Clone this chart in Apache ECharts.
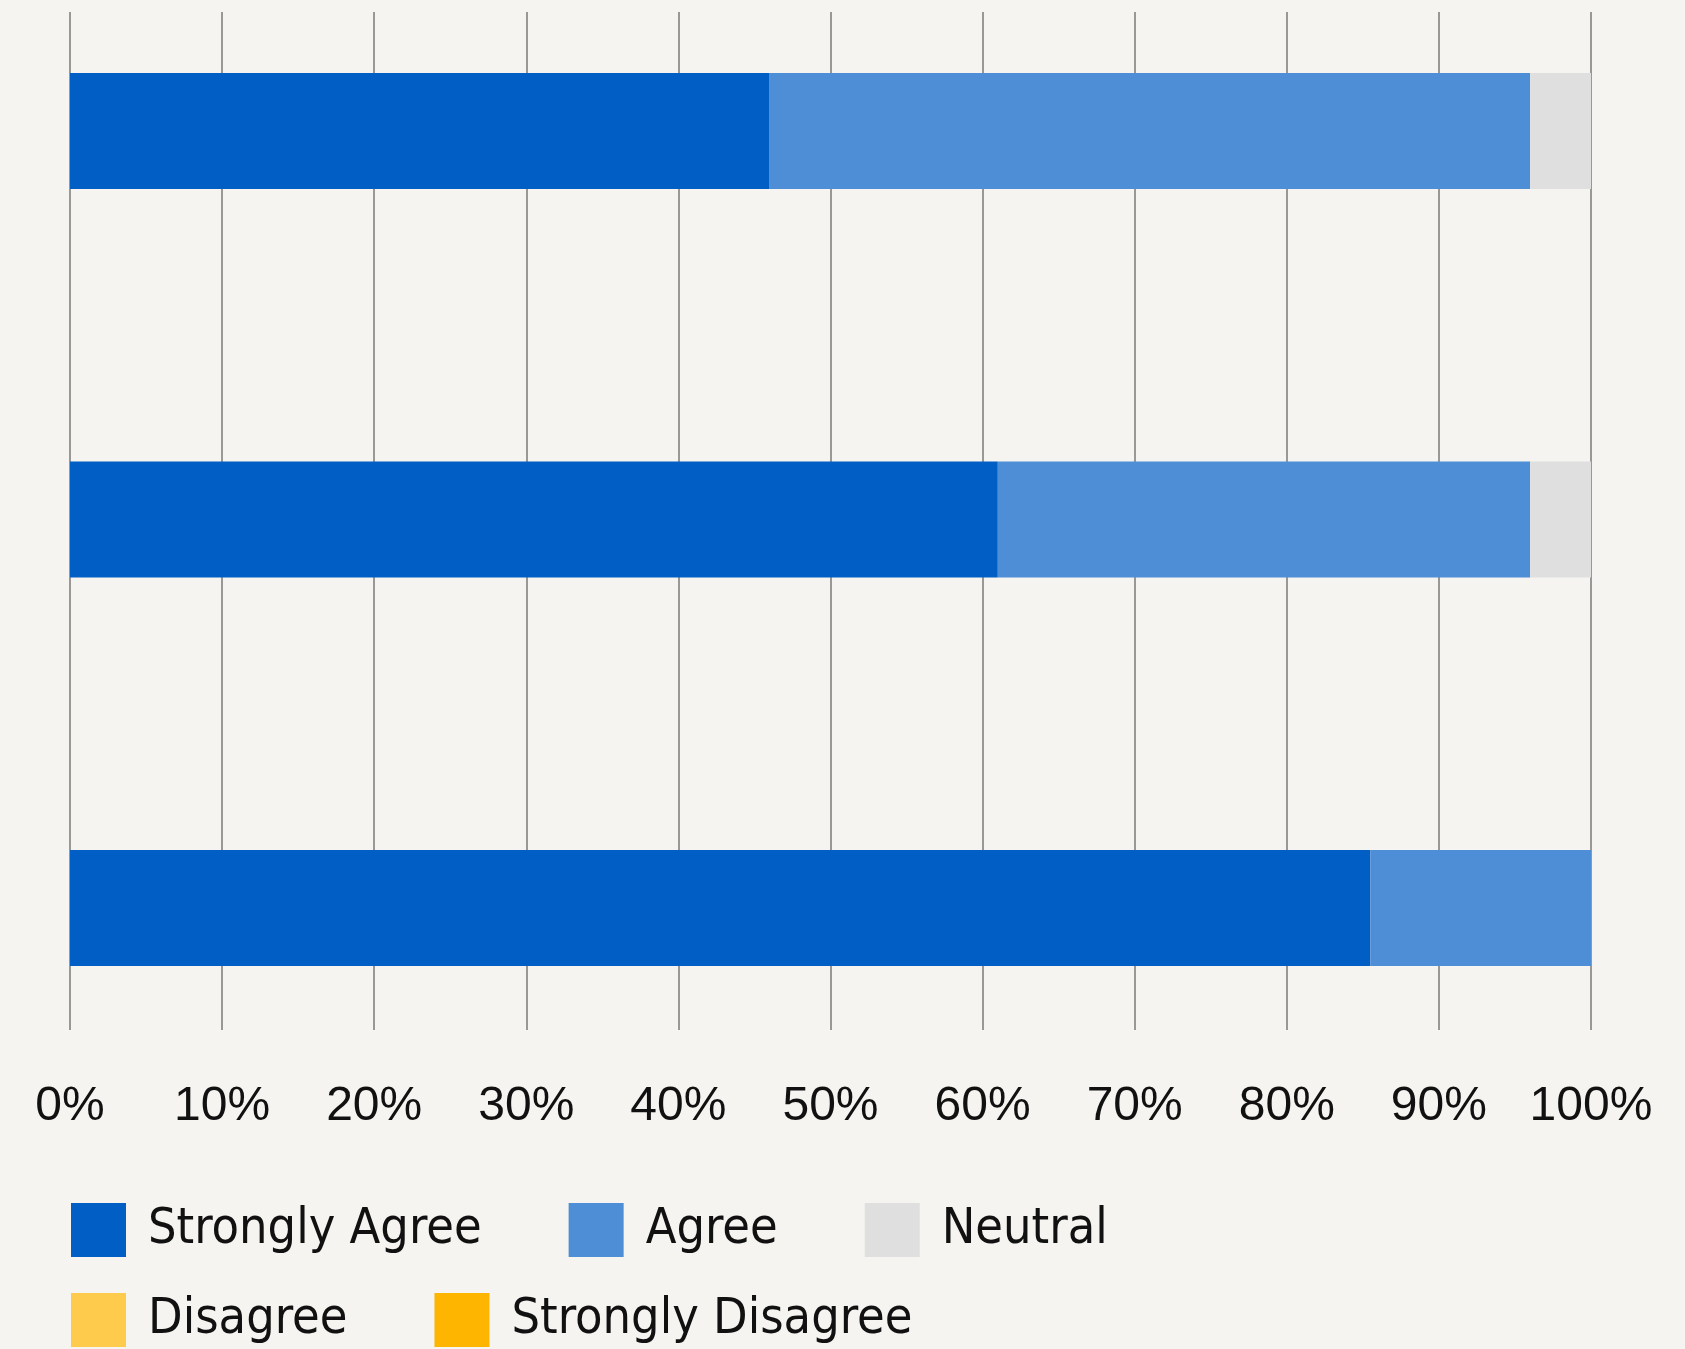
<!DOCTYPE html>
<html>
<head>
<meta charset="utf-8">
<script src="https://cdn.jsdelivr.net/npm/echarts@6/dist/echarts.min.js"></script>
<style>
  html, body { margin: 0; padding: 0; background: #f5f4f0; }
  #chart { width: 1685px; height: 1349px; }
</style>
</head>
<body>
<div id="chart"></div>
<script>
// Survey statements (top to bottom) and share of responses per answer, in percent
const statements = ['Statement A', 'Statement B', 'Statement C'];
const stronglyAgree = [46, 61, 85.5];
const agree = [50, 35, 14.5];
const neutral = [4, 4, 0];
const disagree = [0, 0, 0];
const stronglyDisagree = [0, 0, 0];
const percentTicks = [0, 10, 20, 30, 40, 50, 60, 70, 80, 90, 100];

const answerNames = ['Strongly Agree', 'Agree', 'Neutral', 'Disagree', 'Strongly Disagree'];
const answerValues = [stronglyAgree, agree, neutral, disagree, stronglyDisagree];
const answerColors = ['#005ec4', '#4d8ed6', '#dfdfdf', '#fecb4d', '#fdb500'];

const legendFont = '"Liberation Sans Narrow", "DejaVu Sans Condensed", "Noto Sans", sans-serif';
const axisFont = '"Liberation Sans", Arial, sans-serif';

const chart = echarts.init(document.getElementById('chart'), null, { renderer: 'canvas' });

const legendBase = {
  left: 71,
  padding: 0,
  orient: 'horizontal',
  icon: 'rect',
  itemWidth: 55,
  itemHeight: 54,
  itemGap: 87,
  selectedMode: false,
  textStyle: {
    fontFamily: legendFont,
    fontSize: 50,
    color: '#111',
    padding: [4, 0, 0, 17]
  }
};

chart.setOption({
  backgroundColor: '#f5f4f0',
  animation: false,
  grid: [
    // grid 0: bars
    { left: 70, right: 94, top: 131, height: 777, containLabel: false },
    // grid 1: percentage scale with vertical grid lines
    { left: 70, right: 94, top: 12, height: 1018, containLabel: false }
  ],
  xAxis: [
    {
      gridIndex: 0, type: 'value', min: 0, max: 100, interval: 10,
      show: false
    },
    {
      gridIndex: 1, type: 'value', min: percentTicks[0], max: percentTicks[percentTicks.length - 1], interval: 10,
      axisLine: { show: false },
      axisTick: { show: false },
      splitLine: { show: true, lineStyle: { color: '#7a7a7a', width: 1.5 } },
      axisLabel: {
        margin: 53,
        fontFamily: axisFont,
        fontSize: 48,
        color: '#111',
        formatter: v => v + '%'
      }
    }
  ],
  yAxis: [
    {
      gridIndex: 0, type: 'category', data: statements, inverse: true,
      boundaryGap: false, show: false
    },
    {
      gridIndex: 1, type: 'value', show: false, min: 0, max: 1
    }
  ],
  legend: [
    Object.assign({}, legendBase, { top: 1203, data: answerNames.slice(0, 3) }),
    Object.assign({}, legendBase, { top: 1293, data: answerNames.slice(3) })
  ],
  series: answerNames.map((name, i) => ({
    name: name,
    type: 'bar',
    stack: 'total',
    xAxisIndex: 0,
    yAxisIndex: 0,
    barWidth: 116,
    clip: false,
    itemStyle: { color: answerColors[i] },
    emphasis: { disabled: true },
    data: answerValues[i]
  }))
});
</script>
</body>
</html>
